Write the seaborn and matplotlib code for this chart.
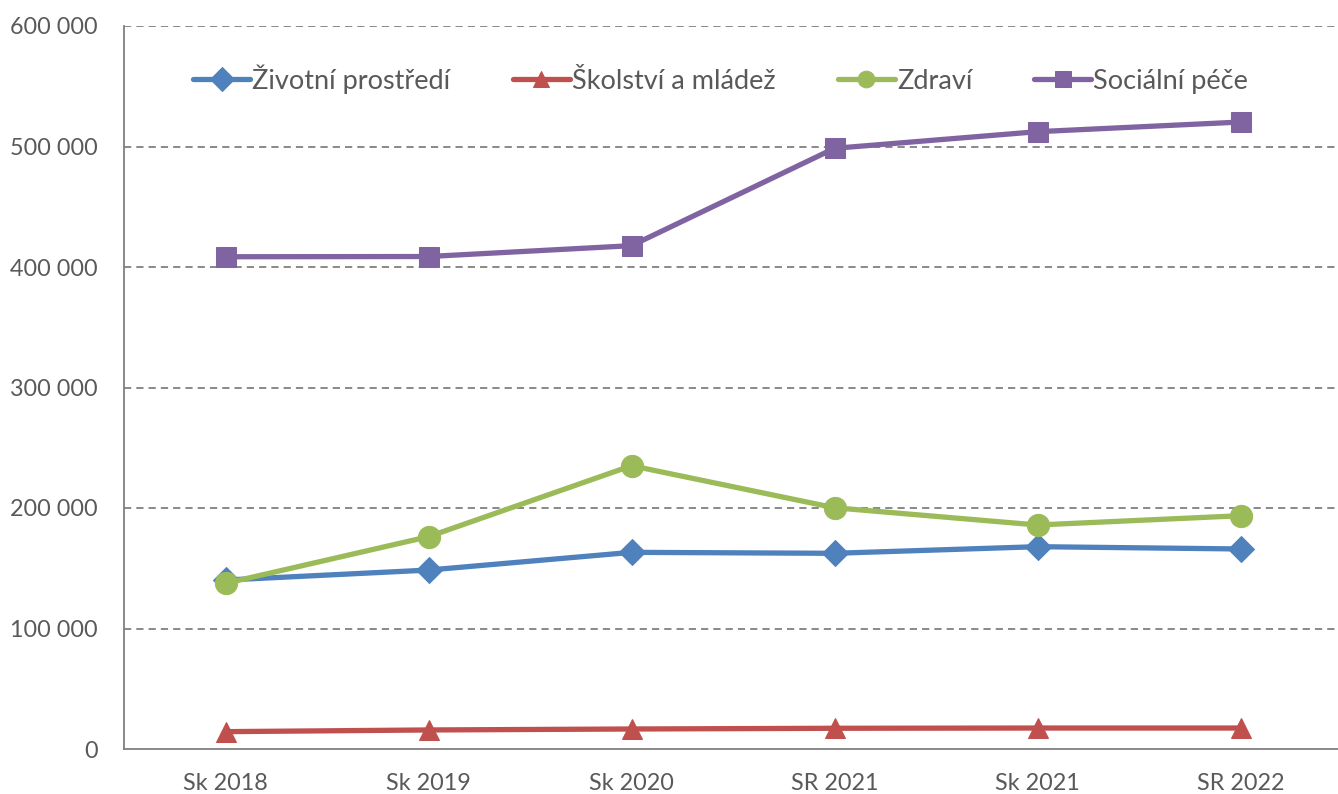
import matplotlib
matplotlib.use("Agg")
import matplotlib.pyplot as plt
import seaborn as sns
import pandas as pd
from matplotlib.ticker import FuncFormatter, FixedLocator

categories = ["Sk 2018", "Sk 2019", "Sk 2020", "SR 2021", "Sk 2021", "SR 2022"]
zivotni = [140200, 148500, 163200, 162400, 167900, 166000]
skolstvi = [14400, 15800, 16600, 17200, 17400, 17400]
zdravi = [137500, 176200, 235100, 200200, 185900, 193600]
socialni = [408500, 408700, 417700, 498500, 512300, 520300]
series_names = ["Životní prostředí", "Školství a mládež", "Zdraví", "Sociální péče"]
y_ticks = [0, 100000, 200000, 300000, 400000, 500000, 600000]

colors = ["#4F81BD", "#C0504D", "#9BBB59", "#8064A2"]
markers = ["D", "^", "o", "s"]
msizes = [13, 15, 16, 14]

sns.set_style("white")
plt.rcParams["font.family"] = ["Lato", "DejaVu Sans"]

text_color = "#595959"
grid_color = "#808080"

fig = plt.figure(figsize=(13.38, 7.94), dpi=100)
ax = fig.add_axes([124 / 1338, 1 - 749 / 794, (1342 - 124) / 1338, (749 - 26) / 794])

values = [zivotni, skolstvi, zdravi, socialni]
for name, vals, c, m, ms in zip(series_names, values, colors, markers, msizes):
    df = pd.DataFrame({"x": range(len(categories)), "y": vals})
    sns.lineplot(data=df, x="x", y="y", ax=ax, color=c, marker=m, markersize=ms,
                 linewidth=3.8, markeredgecolor=c, label=name, clip_on=False)

ax.set_xlim(-0.5, len(categories) - 0.5)
ax.set_ylim(0, 600000)
ax.set_yticks(y_ticks)
ax.yaxis.set_major_formatter(FuncFormatter(lambda v, p: f"{int(v):,}".replace(",", " ")))
ax.set_xticks(range(len(categories)))
ax.set_xticklabels(categories)
ax.xaxis.set_minor_locator(FixedLocator([i + 0.5 for i in range(len(categories) - 1)]))
ax.set_xlabel("")
ax.set_ylabel("")

for y in y_ticks[1:]:
    ax.axhline(y, color=grid_color, linestyle=(0, (4, 2.8)), linewidth=1.3, zorder=0)

for s in ["top", "right"]:
    ax.spines[s].set_visible(False)
for s in ["left", "bottom"]:
    ax.spines[s].set_color(grid_color)
    ax.spines[s].set_linewidth(1.3)

ax.tick_params(axis="y", length=0, pad=19, labelsize=16.8, labelcolor=text_color)
ax.tick_params(axis="x", which="major", length=0, pad=17, labelsize=16.8, labelcolor=text_color)
ax.tick_params(axis="x", which="minor", direction="in", length=7, width=1.3, color=grid_color)

leg = ax.legend(loc="center", bbox_to_anchor=(0.49, 0.927), ncol=4, frameon=False,
                fontsize=19.5, handlelength=2.1, handletextpad=0.08, columnspacing=2.3,
                labelcolor=text_color)
for h in leg.legend_handles:
    h.set_markersize(12)

fig.savefig("out.png", dpi=100)
